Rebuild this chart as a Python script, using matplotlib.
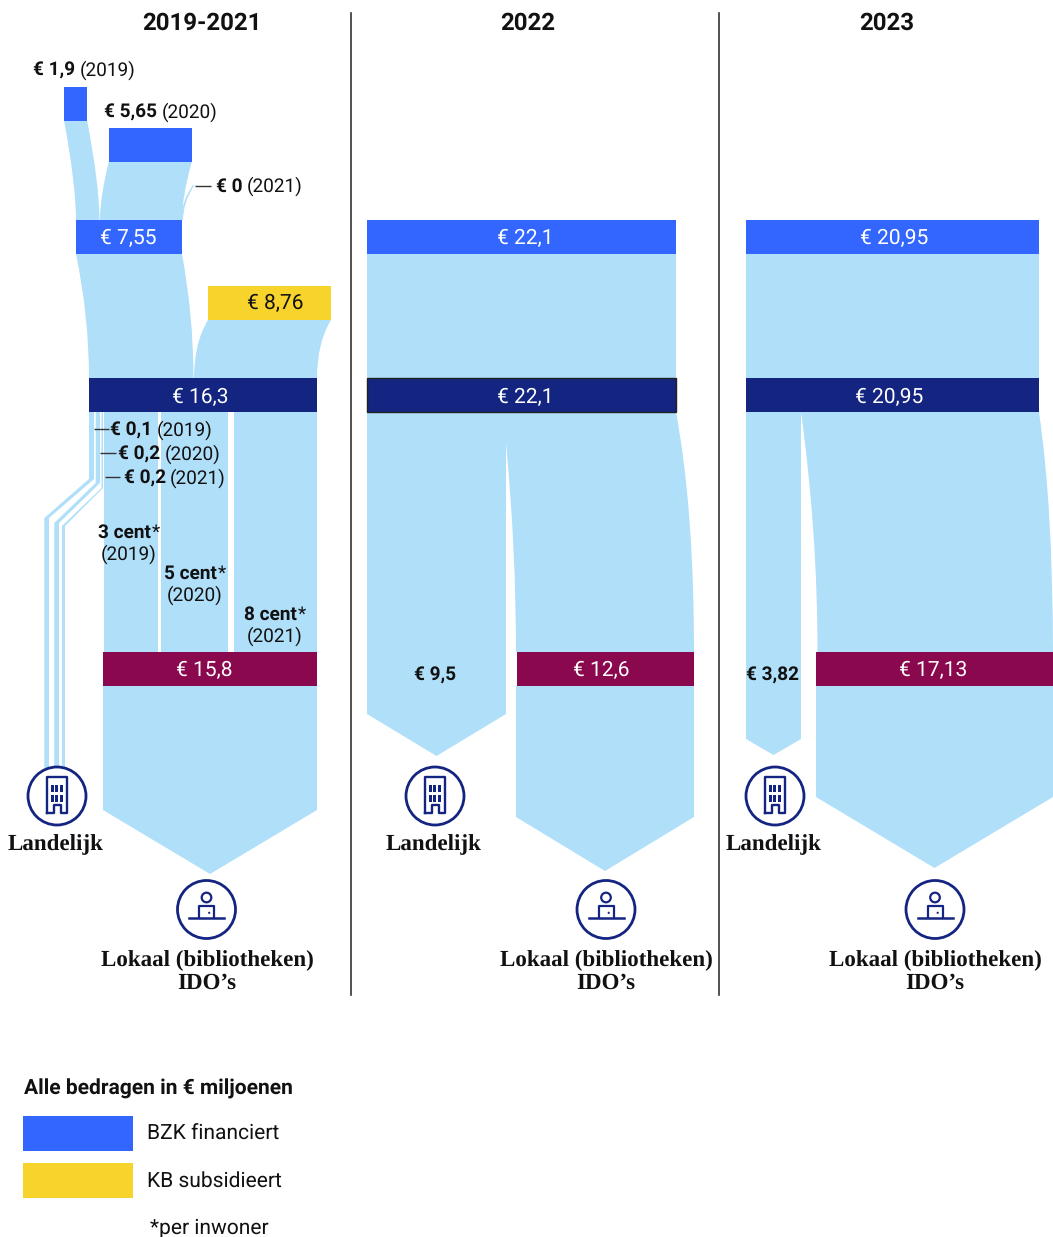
#!/usr/bin/env python3
import matplotlib
matplotlib.use("Agg")
import matplotlib.pyplot as plt
from matplotlib.path import Path
from matplotlib.patches import PathPatch, Circle, Rectangle

plt.rcParams["font.family"] = ["Roboto", "DejaVu Sans"]
plt.rcParams["text.hinting"] = "no_hinting"
plt.rcParams["text.hinting_factor"] = 1

# All amounts in EUR million
panel_titles = ["2019-2021", "2022", "2023"]
bzk_years = [1.9, 5.65, 0]
bzk_total = [7.55, 22.1, 20.95]
kb_subsidy = 8.76
pot_total = [16.3, 22.1, 20.95]
local_total = [15.8, 12.6, 17.13]
national_total = [9.5, 3.82]
national_small = [0.1, 0.2, 0.2]
per_head = ["3 cent", "5 cent", "8 cent"]
years = ["2019", "2020", "2021"]
legend_labels = ["BZK financiert", "KB subsidieert"]

BLUE = "#3366FF"
YELLOW = "#F6D42B"
NAVY = "#142481"
MAROON = "#8A084E"
FLOW = "#B0DFF9"
INK = "#111111"
PX_PER_EUR = 13.98
BAR_H = 34

fig = plt.figure(figsize=(10.53, 12.37), dpi=100)
ax = fig.add_axes([0, 0, 1, 1])
ax.set_xlim(0, 1053)
ax.set_ylim(1237, 0)
ax.axis("off")


def eur(v):
  return v * PX_PER_EUR


def fmt(v):
  return "€ " + str(v).replace(".", ",")


def bar(left, top, value, color, nudge=0):
  # nudge: the source drew a few bars slightly off scale
  w = eur(value) + nudge
  ax.barh(top + BAR_H / 2, w, left=left, height=BAR_H, color=color, linewidth=0, zorder=3)
  return left, left + w


def ribbon(l0, r0, y0, l1, r1, y1, k=0.45):
  c = y0 + k * (y1 - y0)
  verts = [(l0, y0), (l1, c), (l1, y1), (r1, y1), (r1, c), (r0, y0), (l0, y0)]
  codes = [Path.MOVETO, Path.CURVE3, Path.CURVE3, Path.LINETO, Path.CURVE3, Path.CURVE3, Path.CLOSEPOLY]
  ax.add_patch(PathPatch(Path(verts, codes), facecolor=FLOW, edgecolor="none", zorder=1))


def slit(x0, y0, x1, y1, k=0.5):
  # white gap between the two outflows, cut over the ribbon
  c = y0 + k * (y1 - y0)
  verts = [(x0, y0), (x1, c), (x1, y1), (x0, y1), (x0, y0)]
  codes = [Path.MOVETO, Path.CURVE3, Path.CURVE3, Path.LINETO, Path.CLOSEPOLY]
  ax.add_patch(PathPatch(Path(verts, codes), fc="white", ec="none", zorder=2))


def arrow(l, r, y0, y1, tip):
  ax.fill([l, r, r, (l + r) / 2, l], [y0, y0, y1, tip, y1], color=FLOW, linewidth=0, zorder=1)


def band(x, y):
  ax.fill_betweenx(y, x[0], x[1], color=FLOW, linewidth=0, zorder=1)


def label(x, y, s, color=INK, size=15.2, ha="center", **kw):
  return ax.text(x, y, s, color=color, fontsize=size, ha=ha, va="baseline", zorder=5, **kw)


def rich(x, y, bold, plain, size=13.7, ha="left"):
  # bold and regular part on one baseline, measured with the renderer
  rend = fig.canvas.get_renderer()
  a = label(x, y, bold, size=size, ha="left", fontweight="bold")
  wa = a.get_window_extent(rend).width
  b = label(x, y, plain, size=size, ha="left")
  wb = b.get_window_extent(rend).width
  if ha == "center":
    x = x - (wa + wb) / 2
    a.set_x(x)
  gap = 4.5 if plain.startswith("(") else 0.5
  b.set_x(x + wa + gap)


def leader(x0, x1, y):
  ax.plot([x0, x1], [y, y], color="#333333", lw=1.0, zorder=4, solid_capstyle="butt")


def building(cx, cy):
  ax.add_patch(Circle((cx, cy), 29, fc="white", ec=NAVY, lw=2.0, zorder=4))
  x = [cx - 10, cx - 10, cx + 10, cx + 10, cx + 4, cx + 4, cx - 3.5, cx - 3.5, cx - 10]
  y = [cy + 17, cy - 19, cy - 19, cy + 17, cy + 17, cy + 9, cy + 9, cy + 17, cy + 17]
  ax.plot(x, y, color=NAVY, lw=1.7, zorder=5)
  for wy in (cy - 11, cy - 1):
    for wx in (cx - 6, cx - 1.7, cx + 2.7):
      ax.add_patch(Rectangle((wx, wy), 3, 6.7, fc=NAVY, ec="none", zorder=5))


def person(cx, cy):
  ax.add_patch(Circle((cx, cy), 29, fc="white", ec=NAVY, lw=2.0, zorder=4))
  ax.add_patch(Circle((cx, cy - 12), 4.8, fc="white", ec=NAVY, lw=1.6, zorder=5))
  verts = [(cx - 7.5, cy + 8), (cx - 7.5, cy - 3.5), (cx, cy - 3.5), (cx + 7.5, cy - 3.5), (cx + 7.5, cy + 8)]
  codes = [Path.MOVETO, Path.LINETO, Path.LINETO, Path.LINETO, Path.LINETO]
  ax.add_patch(PathPatch(Path(verts, codes), fc="none", ec=NAVY, lw=1.6, zorder=5, joinstyle="round"))
  ax.plot([cx - 17.5, cx + 17.5], [cy + 8, cy + 8], color=NAVY, lw=1.8, zorder=5)
  ax.add_patch(Circle((cx + 2.7, cy + 3.3), 1.1, fc=NAVY, ec="none", zorder=5))


# panel dividers and titles
for x in (351, 719):
  ax.plot([x, x], [13, 995], color="#333333", lw=1.2)
for x, s in zip((202, 528, 887), panel_titles):
  label(x, 30, s, size=17.5, fontweight="bold", color="#111111")

# ---- 2019-2021 ----
bar(64, 86.5, bzk_years[0], BLUE, nudge=-3.5)
bar(109, 127.5, bzk_years[1], BLUE, nudge=4)
bar(76, 220, bzk_total[0], BLUE)
bar(208, 286, kb_subsidy, YELLOW, nudge=0.5)
bar(89, 378, pot_total[0], NAVY)
bar(103, 652, local_total[0], MAROON, nudge=-7)

ribbon(64, 87, 120, 76, 99.5, 220, k=0.65)
ribbon(109, 192, 161, 100, 182, 220, k=0.6)
# the thin 2021 sliver of zero euro
ribbon(193, 194.5, 185, 181, 183, 220, k=0.5)
ribbon(76, 182, 254, 89, 193.5, 378, k=0.5)
ribbon(208, 331, 320, 194, 317, 378, k=0.4)

for l, r in ((103.7, 157.5), (161, 228), (234, 316.5)):
  band((l, r), [412, 652])
arrow(103, 317, 686, 810, 874)

# thin national streams
for top, bot, dy in (((89, 94), (44.3, 49), (479, 518)), ((95.7, 100), (54.3, 59), (483, 523)), ((101.5, 103), (62, 65), (488, 526))):
  xl = [top[0], top[0], bot[0], bot[0]]
  xr = [top[1], top[1], bot[1], bot[1]]
  ys = [412, dy[0], dy[1], 775]
  ax.fill(xl + xr[::-1], ys + ys[::-1], color=FLOW, linewidth=0, zorder=1)

rich(33, 76, "€ 1,9", "(2019)")
rich(104.5, 117.5, "€ 5,65", "(2020)")
leader(195, 211, 185.5)
rich(215.5, 191.5, "€ 0", "(2021)")
for x0, x1, tx, y, v, yr in zip((94, 100, 105), (109, 116, 120), (110.5, 118.5, 123.5), (429, 453, 477),
                                national_small, years):
  leader(x0, x1, y)
  rich(tx, y + 6.5, fmt(v), "(%s)" % yr)
for x, y, s, yr in zip((129, 195, 274.5), (538, 579, 620), per_head, years):
  rich(x, y, s, "*", ha="center")
  label(x, y + 21.7, "(%s)" % yr, size=13.7)

label(128, 244.5, fmt(bzk_total[0]), color="white")
label(275, 309, fmt(kb_subsidy), color=INK)
label(200, 403, fmt(pot_total[0]), color="white")
label(204, 676, fmt(local_total[0]), color="white")

# ---- 2022 ----
bar(367, 220, bzk_total[1], BLUE)
ribbon(367, 676, 254, 367, 676, 378)
ax.barh(378 + BAR_H / 2, eur(pot_total[1]), left=367, height=BAR_H, color=NAVY,
        edgecolor="#222222", linewidth=1, zorder=3)
band((367, 506), [412, 714])
arrow(367, 506, 714, 714, 756)
ribbon(495, 676, 412, 510, 694, 652, k=0.4)
slit(506, 443, 516, 652)
bar(517, 652, local_total[1], MAROON, nudge=1)
arrow(516, 694, 686, 817, 871)

label(525, 244.5, fmt(bzk_total[1]), color="white")
label(525, 403, fmt(pot_total[1]), color="white")
label(601, 676, fmt(local_total[1]), color="white")
rich(414, 681, fmt(national_total[0]), "")

# ---- 2023 ----
bar(746, 220, bzk_total[2], BLUE)
ribbon(746, 1039, 254, 746, 1039, 378)
bar(746, 378, pot_total[2], NAVY)
band((746, 801), [412, 739])
arrow(746, 801, 739, 739, 755)
ribbon(795, 1039, 412, 810, 1053, 652, k=0.4)
slit(801, 412, 817.5, 652)
bar(816, 652, local_total[2], MAROON, nudge=-2.5)
arrow(816, 1053, 686, 797, 868)

label(894, 244.5, fmt(bzk_total[2]), color="white")
label(889, 403, fmt(pot_total[2]), color="white")
label(933, 676, fmt(local_total[2]), color="white")
rich(746, 681, fmt(national_total[1]), "")

# icons and serif captions
for cx, tx in ((57, 56), (435, 434), (775, 774)):
  building(cx, 796)
  label(tx, 850.5, "Landelijk", size=16.3, family="Liberation Serif", fontweight="bold")
for cx, cy, tx in ((206.5, 909.5, 207), (606, 909.5, 606), (935, 909.5, 935)):
  person(cx, cy)
  label(tx, 966, "Lokaal (bibliotheken)", size=16.3, family="Liberation Serif", fontweight="bold")
  label(tx, 988.5, "IDO’s", size=16.3, family="Liberation Serif", fontweight="bold")

# legend
label(24, 1095, "Alle bedragen in € miljoenen", size=15.3, ha="left", fontweight="bold")
for y, c, s in zip((1116, 1163), (BLUE, YELLOW), legend_labels):
  ax.barh(y + 17.5, 110, left=23, height=35, color=c, linewidth=0)
  label(147, y + 23.5, s, size=15.3, ha="left")
label(150, 1233.5, "*per inwoner", size=15.3, ha="left")

plt.savefig("out.png", dpi=100)
